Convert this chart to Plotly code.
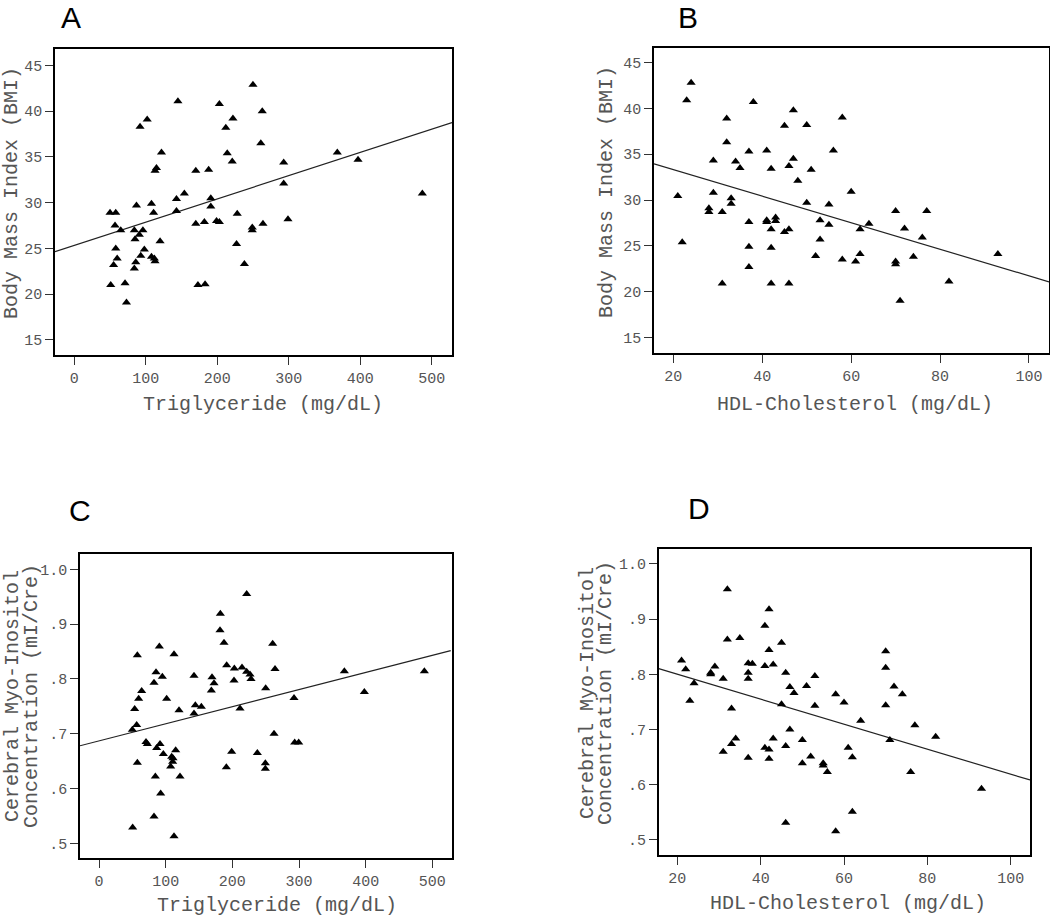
import plotly.graph_objects as go

# ---------------- data ----------------
# Panel A: Triglyceride vs BMI
a_tg = [50, 58, 57, 65, 58, 60, 55, 51, 71, 73, 84, 85, 91, 96, 87, 86, 84, 98, 93, 108,
        111, 108, 112, 113, 120, 92, 102, 113, 115, 122, 145, 143, 143, 154, 170, 170,
        182, 173, 183, 188, 191, 191, 199, 203, 203, 212, 214, 222, 221, 228, 227, 238,
        250, 249, 249, 263, 261, 264, 293, 293, 299, 368, 397, 487]
a_bmi = [28.9, 28.9, 27.5, 27.0, 25.0, 23.9, 23.2, 21.0, 21.2, 19.1, 27.0, 26.0, 26.5,
         27.0, 29.7, 23.5, 22.8, 24.9, 24.2, 29.9, 28.9, 24.1, 23.9, 23.6, 25.8, 38.3,
         39.1, 33.5, 33.8, 35.5, 41.1, 30.4, 29.1, 31.0, 33.5, 27.7, 27.9, 21.0, 21.1,
         33.6, 30.5, 29.6, 28.0, 27.9, 40.8, 38.2, 35.4, 39.2, 34.5, 28.8, 25.5, 23.3,
         42.9, 27.3, 27.0, 40.0, 36.5, 27.7, 34.4, 32.1, 28.2, 35.5, 34.7, 31.0]
a_fit_x = [-27, 528.5]
a_fit_y = [24.65, 38.76]

# Panel B: HDL vs BMI
b_hdl = [21, 22, 23, 24, 28, 28, 29, 29, 31, 31, 32, 32, 33, 33, 34, 35, 37, 37, 37, 37,
         38, 41, 41, 41, 42, 42, 42, 42, 43, 43, 45, 45, 46, 46, 46, 47, 47, 48, 50, 50,
         51, 52, 53, 53, 55, 55, 56, 58, 58, 60, 61, 62, 62, 64, 70, 70, 70, 71, 72, 74,
         76, 77, 82, 93]
b_bmi = [30.45, 25.4, 40.9, 42.8, 29.1, 28.7, 34.3, 30.8, 28.7, 20.9, 38.9, 36.3, 30.2,
         29.6, 34.2, 33.5, 35.3, 27.6, 24.9, 22.7, 40.7, 35.4, 27.8, 27.6, 33.4, 26.8,
         24.8, 20.9, 28.1, 27.7, 38.1, 26.5, 26.8, 33.7, 20.9, 39.8, 34.5, 32.1, 29.7,
         38.2, 33.3, 23.9, 27.8, 25.7, 29.5, 27.3, 35.4, 39.0, 23.5, 30.9, 23.3, 26.8,
         24.1, 27.4, 28.8, 23.3, 23.0, 19.0, 26.9, 23.8, 25.9, 28.8, 21.1, 24.1]
b_fit_x = [15.65, 104.5]
b_fit_y = [33.95, 21.07]

# Panel C: Triglyceride vs mI/Cre
c_tg = [50, 50.5, 53.5, 56.5, 57.5, 57.5, 59.5, 64, 70.5, 72.5, 82.5, 82.5, 84.5, 85.5,
        86.5, 90.5, 91.5, 92.5, 95, 96.5, 101.5, 107.5, 109, 110.5, 111, 112.5, 112.5,
        115, 120, 121.5, 142.5, 142.5, 144.5, 153.5, 168.5, 169.5, 172.5, 181.5, 182,
        187.5, 191, 191.5, 199, 202.5, 203, 211.5, 214.5, 221.5, 221.5, 226.5, 228,
        237.5, 249.5, 249.5, 250, 260.5, 262.5, 264, 292.5, 293.5, 299.5, 368, 398, 488]
c_mi = [0.707, 0.529, 0.745, 0.716, 0.647, 0.843, 0.764, 0.778, 0.685, 0.681, 0.549,
        0.793, 0.622, 0.812, 0.674, 0.859, 0.681, 0.591, 0.804, 0.663, 0.764, 0.640,
        0.658, 0.649, 0.655, 0.845, 0.513, 0.670, 0.743, 0.622, 0.806, 0.737, 0.752,
        0.749, 0.779, 0.803, 0.792, 0.889, 0.919, 0.866, 0.639, 0.825, 0.667, 0.797,
        0.819, 0.746, 0.821, 0.955, 0.813, 0.808, 0.800, 0.665, 0.646, 0.636, 0.783,
        0.864, 0.700, 0.818, 0.765, 0.684, 0.684, 0.814, 0.776, 0.814]
c_fit_x = [-28.5, 527.5]
c_fit_y = [0.678, 0.8516]

# Panel D: HDL vs mI/Cre
d_hdl = [21, 22, 23, 24, 28, 28, 29, 31, 31, 32, 32, 33, 33, 34, 35, 37, 37, 37, 37, 38,
         41, 41, 41, 42, 42, 42, 42, 43, 43, 45, 45, 46, 46, 46, 47, 47, 48, 50, 50, 51,
         52, 53, 53, 55, 55, 56, 58, 58, 60, 61, 62, 62, 64, 70, 70, 70, 71, 72, 74, 76,
         77, 82, 93]
d_mi = [0.825, 0.809, 0.752, 0.784, 0.803, 0.800, 0.814, 0.792, 0.660, 0.954, 0.863,
        0.738, 0.674, 0.684, 0.866, 0.820, 0.803, 0.792, 0.649, 0.819, 0.888, 0.815,
        0.667, 0.918, 0.844, 0.664, 0.647, 0.818, 0.684, 0.857, 0.746, 0.803, 0.670,
        0.531, 0.777, 0.700, 0.766, 0.681, 0.639, 0.779, 0.651, 0.797, 0.743, 0.639,
        0.635, 0.623, 0.764, 0.516, 0.749, 0.667, 0.650, 0.551, 0.716, 0.842, 0.812,
        0.744, 0.681, 0.778, 0.764, 0.623, 0.708, 0.687, 0.593]
d_fit_x = [15.52, 104.64]
d_fit_y = [0.8104, 0.6087]

bmi_ticks = [15, 20, 25, 30, 35, 40, 45]
tg_ticks = [0, 100, 200, 300, 400, 500]
hdl_ticks = [20, 40, 60, 80, 100]
mi_ticks = [0.5, 0.6, 0.7, 0.8, 0.9, 1.0]
mi_ticktext = [".5", ".6", ".7", ".8", ".9", "1.0"]

# ---------------- layout helpers ----------------
W, H = 1050, 917
MONO = "Liberation Mono, Courier New, monospace"
GRAY = "#555555"


def px(x):
    return x / W


def py(y):
    return 1 - y / H


fig = go.Figure()

panels = [
    (a_tg, a_bmi, a_fit_x, a_fit_y, "", (55, 452), (49, 355), (-27, 528.5), (13.36, 46.8),
     tg_ticks, bmi_ticks, None),
    (b_hdl, b_bmi, b_fit_x, b_fit_y, "2", (654, 1049), (48.3, 353), (15.65, 104.5), (13.3, 46.56),
     hdl_ticks, bmi_ticks, None),
    (c_tg, c_mi, c_fit_x, c_fit_y, "3", (80, 451.7), (554, 858.3), (-28.5, 529), (0.4726, 1.028),
     tg_ticks, mi_ticks, mi_ticktext),
    (d_hdl, d_mi, d_fit_x, d_fit_y, "4", (658.7, 1030), (549, 855), (15.52, 104.64), (0.4728, 1.027),
     hdl_ticks, mi_ticks, mi_ticktext),
]

layout_axes = {}
for xs, ys, fx, fy, s, xd, yd, xr, yr, xt, yt, ytt in panels:
    xa = "x" + s
    ya = "y" + s
    fig.add_trace(go.Scatter(x=fx, y=fy, mode="lines", line=dict(color="#222222", width=1.2),
                             xaxis=xa, yaxis=ya, showlegend=False, hoverinfo="skip"))
    fig.add_trace(go.Scatter(x=xs, y=ys, mode="markers",
                             marker=dict(symbol="triangle-up", size=8, color="black"),
                             xaxis=xa, yaxis=ya, showlegend=False))
    common = dict(showline=True, mirror=True, linecolor="black", linewidth=1.5,
                  showgrid=False, zeroline=False, ticks="outside", ticklen=8,
                  tickcolor="#333333", tickwidth=1,
                  tickfont=dict(family=MONO, size=15, color=GRAY))
    layout_axes["xaxis" + s] = dict(domain=[px(xd[0]), px(xd[1])], range=list(xr),
                                    tickvals=xt, anchor=ya, **common)
    yax = dict(domain=[py(yd[1]), py(yd[0])], range=list(yr), tickvals=yt,
               anchor=xa, **common)
    if ytt is not None:
        yax["ticktext"] = ytt
    layout_axes["yaxis" + s] = yax

fig.update_layout(**layout_axes)

annotations = []
# panel letters
for letter, x, y in [("A", 71, 18), ("B", 688, 18), ("C", 80, 510), ("D", 699, 508)]:
    annotations.append(dict(text=letter, x=px(x), y=py(y), xref="paper", yref="paper",
                            showarrow=False, xanchor="center", yanchor="middle",
                            font=dict(family="Liberation Sans, Arial, sans-serif", size=30,
                                      color="black")))
# x axis titles
for t, x, y in [("Triglyceride (mg/dL)", 263, 404), ("HDL-Cholesterol (mg/dL)", 855, 404),
                ("Triglyceride (mg/dL)", 277, 905), ("HDL-Cholesterol (mg/dL)", 848, 903)]:
    annotations.append(dict(text=t, x=px(x), y=py(y), xref="paper", yref="paper",
                            showarrow=False, xanchor="center", yanchor="middle",
                            font=dict(family=MONO, size=20, color=GRAY)))
# y axis titles
for t, x, y in [("Body Mass Index (BMI)", 12, 193), ("Body Mass Index (BMI)", 607, 192),
                ("Cerebral Myo-Inositol", 12, 696), ("Concentration (mI/Cre)", 31, 696),
                ("Cerebral Myo-Inositol", 587, 693), ("Concentration (mI/Cre)", 605, 693)]:
    annotations.append(dict(text=t, x=px(x), y=py(y), xref="paper", yref="paper",
                            showarrow=False, xanchor="center", yanchor="middle",
                            textangle=-90,
                            font=dict(family=MONO, size=20, color=GRAY)))

fig.update_layout(width=W, height=H, margin=dict(l=0, r=0, t=0, b=0),
                  paper_bgcolor="white", plot_bgcolor="white",
                  annotations=annotations, showlegend=False)

fig.write_html("out.html", config={"displayModeBar": False},
               post_script="document.body.style.margin='0';document.body.style.overflow='hidden';")
